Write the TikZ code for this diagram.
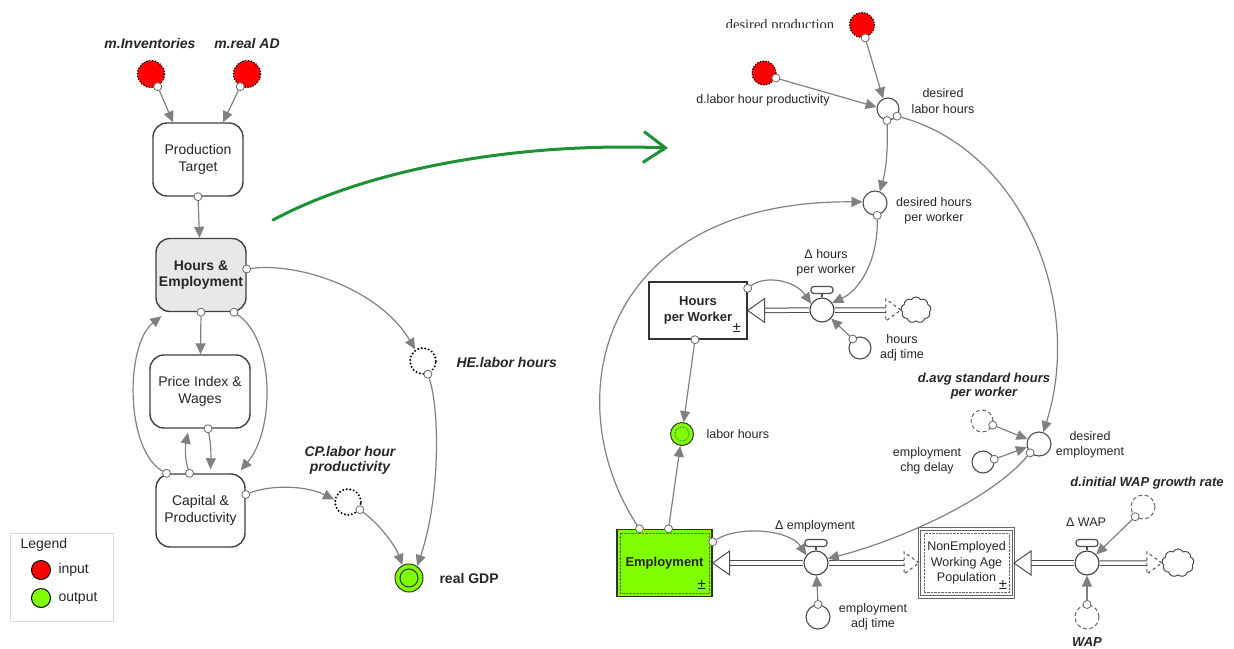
\documentclass[tikz,border=0pt]{standalone}
\usepackage{fontspec}
\setmainfont{Liberation Sans}
\newfontfamily\serifdp{Liberation Serif}
\usetikzlibrary{arrows.meta,calc,shapes.symbols}

\definecolor{outgreen}{RGB}{128,255,0}
\definecolor{handgreen}{RGB}{30,145,55}

\tikzset{
    conn/.style={draw=gray, line width=1.2pt, -{Triangle[length=11pt,width=10pt]}},
    port/.style={circle, draw=gray!80!black, fill=white, line width=0.8pt, inner sep=0pt, minimum size=8pt},
    sectorbox/.style={draw=black!75, line width=1.4pt, rounded corners=14pt, fill=white, inner sep=0pt,
        minimum width=90pt, minimum height=73pt, align=center, font=\fontsize{14}{17}\selectfont},
    stockbox/.style={draw=black!80, line width=1.4pt, fill=white, inner sep=0pt, align=center,
        minimum width=98pt, minimum height=57pt, font=\bfseries\fontsize{13}{16}\selectfont},
    auxnode/.style={circle, draw=black!70, line width=1.1pt, fill=white, inner sep=0pt, minimum size=22pt},
    valvenode/.style={circle, draw=black!75, line width=1.1pt, fill=white, inner sep=0pt, minimum size=24pt},
    inputnode/.style={circle, fill=red, draw=black, line width=1.7pt, line cap=round,
        dash pattern=on 0pt off 2.8pt, inner sep=0pt, minimum size=27pt},
    ghostnode/.style={circle, draw=black, line width=2.2pt, line cap=round,
        dash pattern=on 0pt off 3.6pt, fill=white, inner sep=0pt, minimum size=26pt},
    shadownode/.style={circle, draw=black!60, line width=1pt, dash pattern=on 4pt off 2.5pt,
        fill=white, inner sep=0pt, minimum size=22pt},
    outcirc/.style={circle, fill=outgreen, draw=black!80, line width=1pt, inner sep=0pt, minimum size=28pt},
    cloudnode/.style={cloud, cloud puffs=9, cloud puff arc=120, aspect=1.15, draw=black!70,
        line width=1pt, fill=white, inner sep=0pt, minimum width=30pt, minimum height=26pt},
    pipe/.style={draw=black!70, line width=1pt, double=white, double distance=3.5pt},
    pipehead/.style={draw=black!70, line width=1pt, fill=white, line join=miter},
    valvebar/.style={draw=black!70, line width=1.2pt, fill=white},
    bilabel/.style={font=\bfseries\itshape\fontsize{14}{15}\selectfont},
    rbilabel/.style={font=\bfseries\itshape\fontsize{13}{14}\selectfont}
}

\begin{document}
\begin{tikzpicture}[x=1pt, y=-1pt, font=\fontsize{12.5}{15.5}\selectfont, text=black!85]
    \useasboundingbox (0,0) rectangle (1234,648);

    % sectors
    \node[inputnode] (inv) at (151,74) {};
    \node[inputnode] (rad) at (247,74) {};
    \node[bilabel] (linv) at (150,43) {m.Inventories};
    \node[bilabel] (lrad) at (247,43) {m.real AD};
    \node[sectorbox] (prod) at (198,159.5) {Production\\Target};
    \node[sectorbox, fill=gray!18, font=\bfseries\fontsize{14}{16}\selectfont] (hours) at (201,275) {Hours \&\\Employment};
    \node[sectorbox, minimum width=100pt] (price) at (200,391.5) {Price Index \&\\Wages};
    \node[sectorbox, minimum width=89pt] (capital) at (200.5,510.5) {Capital \&\\Productivity};
    \node[ghostnode] (helh) at (423,361) {};
    \node[bilabel, anchor=west] (lhe) at (453,362) {HE.labor hours};
    \node[ghostnode] (cplp) at (348,502) {};
    \node[bilabel, align=center] (lcp) at (350,460) {CP.labor hour\\productivity};
    \node[outcirc] (gdp) at (409,578) {};
    \draw[black!80, line width=1pt] (gdp.center) circle (9pt);
    \node[anchor=west, font=\bfseries\fontsize{14}{16}\selectfont] (lgdp) at (436,578) {real GDP};

    \node[port] (pinv) at (inv.-62) {};
    \node[port] (prad) at (rad.-118) {};
    \node[port] (pprod) at (prod.south) {};
    \node[port] (phe1) at ($(hours.east)+(0,-6)$) {};
    \node[port] (phe2) at (hours.south) {};
    \node[port] (phe3) at ($(hours.south)+(33,0)$) {};
    \node[port] (ppw) at ($(price.south)+(8,0)$) {};
    \node[port] (pcp1) at ($(capital.north)+(-34,0)$) {};
    \node[port] (pcp2) at ($(capital.north)+(-11,0)$) {};
    \node[port] (pcp3) at ($(capital.east)+(0,-16)$) {};
    \node[port] (phl) at (helh.-70) {};
    \node[port] (pcl) at (cplp.-33) {};

    \draw[conn] (pinv) -- ($(prod.north)+(-25,0)$);
    \draw[conn] (prad) -- ($(prod.north)+(25,0)$);
    \draw[conn] (pprod) -- (hours);
    \draw[conn] (phe1) .. controls (300,262) and (380,290) .. (helh.124);
    \draw[conn] (phe2) -- (price);
    \draw[conn] (phe3) .. controls (275,340) and (275,430) .. ($(capital.north east)+(-5,-3)$);
    \draw[conn] (pcp1) .. controls (125,450) and (125,345) .. ($(hours.south west)+(6,4)$);
    \draw[conn] (pcp2) .. controls (185,460) and (185,447) .. ($(price.south)+(-12,4)$);
    \draw[conn] (ppw) .. controls (211,445) and (211,455) .. ($(capital.north)+(10,-4)$);
    \draw[conn] (pcp3) .. controls (270,485) and (305,485) .. (cplp.170);
    \draw[conn] (phl) .. controls (440,410) and (440,500) .. (gdp.56);
    \draw[conn] (pcl) .. controls (380,525) and (395,545) .. (gdp.117);

    % legend
    \node[draw=gray!30, line width=1pt, minimum width=103pt, minimum height=88pt] (legend) at (61.5,577) {};
    \node[anchor=west, font=\fontsize{14}{16}\selectfont] (lleg) at (17,545) {Legend};
    \node[circle, fill=red, draw=black, line width=1pt, minimum size=19pt, inner sep=0pt] (lin) at (41,570) {};
    \node[anchor=west, font=\fontsize{14}{16}\selectfont] (llin) at (55,570) {input};
    \node[circle, fill=outgreen, draw=black, line width=1pt, minimum size=19pt, inner sep=0pt] (lout) at (41,598) {};
    \node[anchor=west, font=\fontsize{14}{16}\selectfont] (llout) at (55,598) {output};

    \coordinate (hs) at (273,220);
    \coordinate (ht) at (668,148);
    \draw[handgreen, line width=3pt, line cap=round, -{Straight Barb[length=22pt,width=31pt]}] (hs) .. controls (370,168) and (520,142) .. (ht);

    % hours and employment
    \begin{scope}
        \clip (700,0) rectangle (860,27);
        \node[font=\serifdp\fontsize{14.5}{17}\selectfont, anchor=base] (ldp) at (780,29.5) {desired production};
    \end{scope}
    \node[inputnode, minimum size=25pt] (dprod) at (862,25) {};
    \node[inputnode, minimum size=24pt] (dlhp) at (764,73) {};
    \node (ldl) at (763,100) {d.labor hour productivity};
    \node[auxnode] (dlh) at (888,109) {};
    \node[align=center] (ldlh) at (943,101) {desired\\labor hours};
    \node[auxnode, minimum size=24pt] (dhpw) at (875,203) {};
    \node[align=center] (ldhpw) at (934,211) {desired hours\\per worker};
    \node[stockbox] (hpw) at (698,310.5) {Hours\\per Worker};
    \node[valvenode] (vh) at (822,310) {};
    \node[align=center] (ldh) at (826,263) {Δ hours\\per worker};
    \node[cloudnode] (c1) at (916,310) {};
    \node[auxnode] (hat) at (860,348) {};
    \node[align=center] (lhat) at (902,348) {hours\\adj time};
    \node[outcirc, minimum size=23pt] (lh) at (682,434) {};
    \draw[black!70, densely dotted, line width=0.8pt] (lh.center) circle (7pt);
    \node[anchor=west] (llh) at (703,434) {labor hours};
    \node[stockbox, fill=outgreen, minimum width=95pt, minimum height=67pt] (emp) at (664.5,563) {Employment};
    \node[valvenode] (ve) at (816,563) {};
    \node (lde) at (815,526) {Δ employment};
    \node[auxnode, minimum size=24pt] (eat) at (818,617) {};
    \node[align=center] (leat) at (873,617) {employment\\adj time};
    \node[stockbox, draw=black!60, line width=1pt, double=white, double distance=1.5pt, minimum width=94pt, minimum height=68pt,
        font=\fontsize{12.5}{15.5}\selectfont] (nwap) at (966.5,563) {NonEmployed\\Working Age\\Population};
    \node[valvenode] (vw) at (1087,563) {};
    \node (ldw) at (1086,522) {Δ WAP};
    \node[cloudnode, minimum width=32pt, minimum height=28pt] (c2) at (1178,563) {};
    \node[auxnode, minimum size=24pt] (dem) at (1039,444) {};
    \node[align=center] (ldem) at (1090,445) {desired\\employment};
    \node[shadownode] (davg) at (982,421) {};
    \node[rbilabel, align=center] (ldavg) at (984,386) {d.avg standard hours\\per worker};
    \node[auxnode] (ecd) at (983,462) {};
    \node[align=center] (lecd) at (927,461) {employment\\chg delay};
    \node[shadownode, minimum size=24pt] (dinit) at (1143,507) {};
    \node[rbilabel] (ldi) at (1147,483) {d.initial WAP growth rate};
    \node[shadownode, minimum size=24pt] (wap) at (1087,617) {};
    \node[rbilabel] (lwap) at (1087,642) {WAP};

    \draw[densely dotted, black!60] ($(emp.north west)+(4,4)$) rectangle ($(emp.south east)+(-4,-4)$);
    \draw[densely dotted, black!60] ($(nwap.north west)+(5,5)$) rectangle ($(nwap.south east)+(-5,-5)$);
    \foreach \s in {hpw,emp,nwap}
        \node[font=\fontsize{15}{15}\selectfont] (pm\s) at ($(\s.south east)+(-11,-12)$) {±};

    \foreach \v/\s/\e in {vh/hpw/c1, ve/emp/nwap, vw/nwap/c2} {
        \draw[pipe] (\v.west) -- ($(\s.east)+(17,0)$);
        \draw[pipe] (\v.east) -- ($(\e.west)+(-15,0)$);
        \draw[pipehead] (\s.east) -- ++(17,-12) -- ++(0,24) -- cycle;
        \draw[pipehead, dashed] (\e.west) -- ++(-15,-11) -- ++(0,22) -- cycle;
        \draw[valvebar] (\v.north) -- ++(0,-4);
        \draw[valvebar, rounded corners=3pt] ($(\v.north)+(-11,-4)$) rectangle ($(\v.north)+(11,-11)$);
    }

    \node[port] (pdp) at (dprod.-76) {};
    \node[port] (pdl) at (dlhp.-23) {};
    \node[port] (pdh1) at (dlh.-95) {};
    \node[port] (pdh2) at (dlh.-38) {};
    \node[port] (pdw) at (dhpw.-80) {};
    \node[port] (phw1) at ($(hpw.north east)+(0,7)$) {};
    \node[port] (phw2) at ($(hpw.south)+(-3,0)$) {};
    \node[port] (pha) at (hat.129) {};
    \node[port] (pem1) at ($(emp.north)+(-25,0)$) {};
    \node[port] (pem2) at ($(emp.north)+(4,0)$) {};
    \node[port] (pem3) at ($(emp.north east)+(0,13)$) {};
    \node[port] (pea) at (eat.north) {};
    \node[port] (pda) at (davg.-21) {};
    \node[port] (pec) at (ecd.14) {};
    \node[port] (pde) at (dem.-135) {};
    \node[port] (pdi) at (dinit.-129) {};
    \node[port] (pwa) at (wap.north) {};

    \draw[conn] (pdp) -- (dlh.115);
    \draw[conn] (pdl) -- (dlh.170);
    \draw[conn] (pdh1) .. controls (888,150) and (886,170) .. (dhpw.67);
    \draw[conn] (pdh2) .. controls (1020,150) and (1085,300) .. (dem.70);
    \draw[conn] (pdw) .. controls (878,260) and (860,290) .. (vh.35);
    \draw[conn] (phw1) .. controls (765,275) and (795,280) .. (vh.150);
    \draw[conn] (pha) -- (vh.-43);
    \draw[conn] (phw2) -- (lh);
    \draw[conn] (pem2) -- (lh);
    \draw[conn] (pem1) .. controls (555,400) and (600,200) .. (dhpw.175);
    \draw[conn] (pem3) .. controls (740,525) and (790,530) .. (ve.141);
    \draw[conn] (pea) -- (ve);
    \draw[conn] (pde) .. controls (990,500) and (900,540) .. (ve.20);
    \draw[conn] (pda) -- (dem.157);
    \draw[conn] (pec) -- (dem.-165);
    \draw[conn] (pdi) -- (vw.43);
    \draw[conn] (pwa) -- (vw);
\end{tikzpicture}
\end{document}
